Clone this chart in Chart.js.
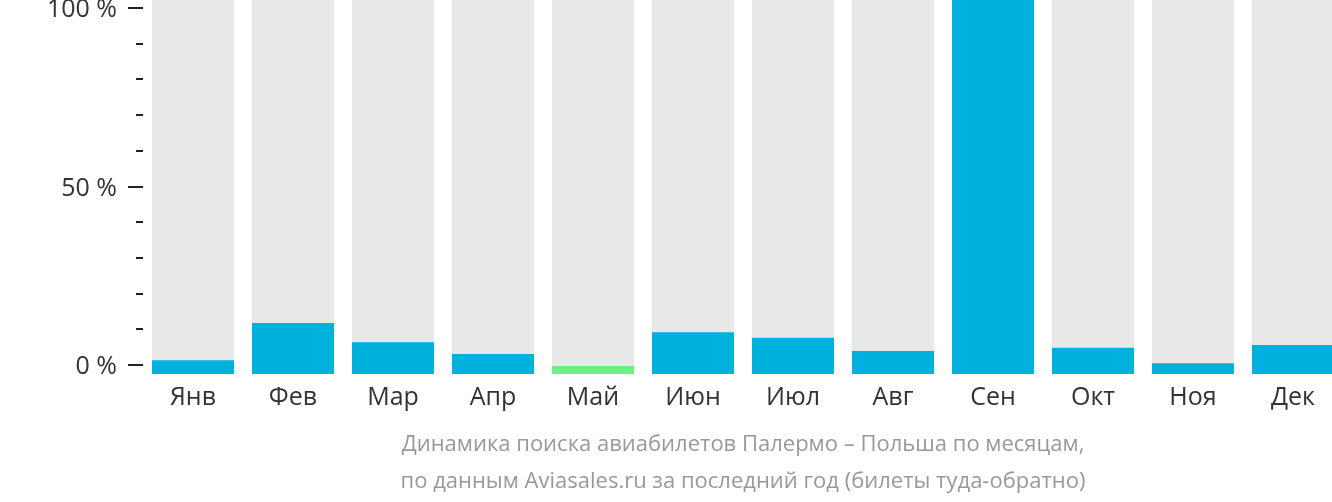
<!DOCTYPE html>
<html>
<head>
<meta charset="utf-8">
<script src="https://cdn.jsdelivr.net/npm/chart.js@4"></script>
<style>
  html, body { margin: 0; padding: 0; overflow: hidden; background: #fff; }
  #wrap { width: 1343px; height: 502px; position: relative; }
</style>
</head>
<body>
<div id="wrap"><canvas id="mycanvas"></canvas></div>
<script>
// months and search share (% of max month)
var months = ['Янв', 'Фев', 'Мар', 'Апр', 'Май', 'Июн', 'Июл', 'Авг', 'Сен', 'Окт', 'Ноя', 'Дек'];
var shares = [1.3, 11.8, 6.4, 3.1, -0.3, 9.2, 7.6, 3.9, 102.4, 4.8, 0.5, 5.6];
var yTicks = [0, 10, 20, 30, 40, 50, 60, 70, 80, 90, 100];
var yLabels = ['0 %', '', '', '', '', '50 %', '', '', '', '', '100 %'];
var titleLines = [
  'Динамика поиска авиабилетов Палермо – Польша по месяцам,',
  'по данным Aviasales.ru за последний год (билеты туда-обратно)'
];

var Y_MIN = -2.52;
var Y_MAX = 102.24;
var lowestMonth = 'Май';

var barColors = months.map(function(m) {
  return m === lowestMonth ? '#6cf08a' : '#00b1dd';
});
var backBars = months.map(function() { return Y_MAX + 1; });

// draws the short tick marks on the left of the plot
var tickMarks = {
  id: 'tickMarks',
  afterDraw: function(chart) {
    var y = chart.scales.y;
    var ctx = chart.ctx;
    var right = chart.chartArea.left;
    ctx.save();
    ctx.strokeStyle = '#222';
    ctx.lineWidth = 2;
    yTicks.forEach(function(v, i) {
      var py = Math.round(y.getPixelForValue(v));
      var len = yLabels[i] ? 15 : 7;
      ctx.beginPath();
      ctx.moveTo(right - len, py);
      ctx.lineTo(right, py);
      ctx.stroke();
    });
    ctx.restore();
  }
};

var ctx = document.getElementById('mycanvas');
new Chart(ctx, {
  type: 'bar',
  data: {
    labels: months,
    datasets: [
      {
        data: shares,
        backgroundColor: barColors,
        base: Y_MIN,
        barPercentage: 0.82,
        categoryPercentage: 1,
        grouped: false,
        order: 1
      },
      {
        data: backBars,
        backgroundColor: '#e8e8e8',
        base: Y_MIN,
        barPercentage: 0.82,
        categoryPercentage: 1,
        grouped: false,
        order: 2
      }
    ]
  },
  options: {
    responsive: true,
    maintainAspectRatio: false,
    animation: false,
    layout: { padding: 0 },
    scales: {
      x: {
        grid: { display: false, drawTicks: false },
        border: { display: false },
        ticks: {
          color: '#333',
          font: { family: 'Open Sans', size: 25 },
          padding: 9
        },
        afterFit: function(scale) { scale.height = 42; }
      },
      y: {
        min: Y_MIN,
        max: Y_MAX,
        grid: { display: false, drawTicks: false },
        border: { display: false },
        afterBuildTicks: function(scale) {
          scale.ticks = yTicks.map(function(v) { return { value: v }; });
        },
        ticks: {
          color: '#333',
          font: { family: 'Open Sans', size: 25 },
          padding: 26,
          labelOffset: 2,
          callback: function(value, index) { return yLabels[index]; }
        },
        afterFit: function(scale) {
          scale.width = 143;
          scale.paddingTop = 0;
          scale.paddingBottom = 0;
        }
      }
    },
    plugins: {
      legend: { display: false },
      tooltip: { enabled: false },
      title: {
        display: true,
        position: 'bottom',
        fullSize: false,
        text: titleLines,
        color: '#999',
        font: { family: 'Open Sans', size: 22, weight: 'normal', lineHeight: '37px' },
        padding: { top: 10.5, bottom: 1.5 }
      }
    }
  },
  plugins: [tickMarks]
});
</script>
</body>
</html>
